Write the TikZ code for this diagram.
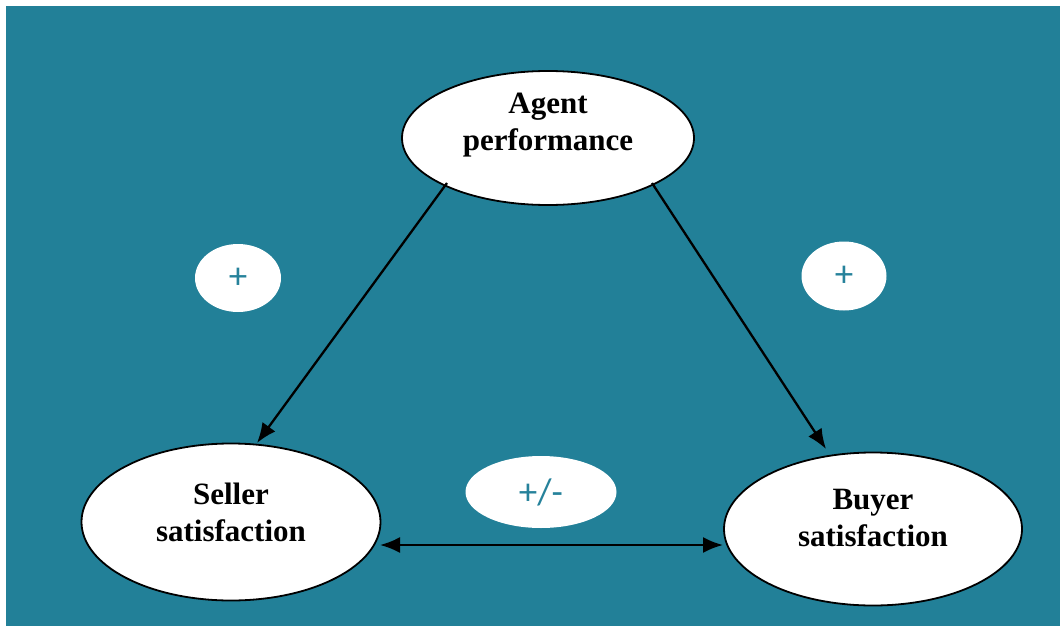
\documentclass[tikz,border=0pt]{standalone}
\usepackage{fontspec}
\setmainfont{Liberation Serif}
\newfontfamily\labelfont{Carlito}
\usetikzlibrary{shapes.geometric,arrows.meta}
\definecolor{bgteal}{RGB}{34,128,152}
\definecolor{signteal}{RGB}{38,130,155}
\tikzset{
  concept/.style={ellipse,draw=black,line width=1.8pt,fill=white},
  ctext/.style={align=center,font=\bfseries\fontsize{31}{37}\selectfont,inner sep=0pt},
  signlbl/.style={ellipse,fill=white,text=signteal,font=\labelfont\fontsize{37}{40}\selectfont,inner sep=0pt},
  link/.style={line width=2.3pt,-{Latex[length=20pt,width=16pt]}},
  bilink/.style={line width=2.3pt,{Latex[length=20pt,width=16pt]}-{Latex[length=20pt,width=16pt]}}
}
\begin{document}
\begin{tikzpicture}[x=1pt,y=-1pt]
\useasboundingbox (0,0) rectangle (1060,626);
\fill[white] (0,0) rectangle (1060,626);
\fill[bgteal] (6,6) rectangle (1060,626);
\node[concept, minimum width=292pt, minimum height=134pt] (agent) at (548,138) {};
\node[concept, minimum width=299pt, minimum height=157pt] (seller) at (231,522) {};
\node[concept, minimum width=298pt, minimum height=153pt] (buyer) at (873,529) {};
\node[ctext] (agentt) at ([yshift=13pt]agent.center) {Agent\\performance};
\node[ctext] (sellert) at ([yshift=10pt]seller.center) {Seller\\satisfaction};
\node[ctext] (buyert) at ([yshift=11pt]buyer.center) {Buyer\\satisfaction};
\node[signlbl, minimum width=86pt, minimum height=68pt] (p1) at (238,278) {+};
\node[signlbl, minimum width=85pt, minimum height=69pt] (p2) at (844,276) {+};
\node[signlbl, minimum width=151pt, minimum height=72pt] (pm) at (541,492) {+/-};
\coordinate (a1) at (447,183);
\coordinate (s1) at (257,443);
\coordinate (a2) at (652,183);
\coordinate (b1) at (826,449);
\coordinate (s2) at (380,545);
\coordinate (b2) at (723,545);
\draw[link] (a1) -- (s1);
\draw[link] (a2) -- (b1);
\draw[bilink] (s2) -- (b2);
\end{tikzpicture}
\end{document}
